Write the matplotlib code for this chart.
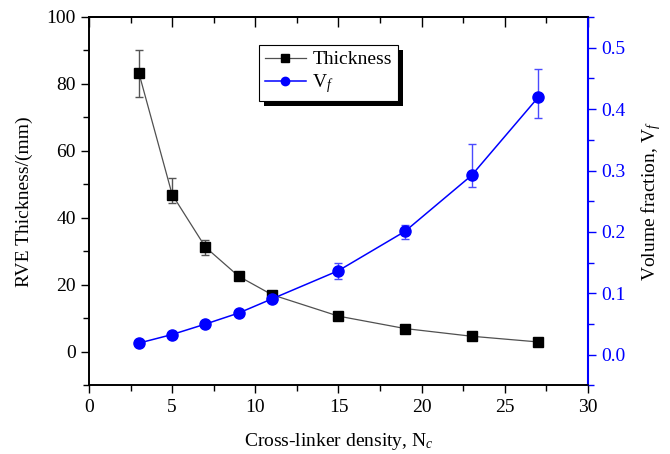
import numpy as np
import matplotlib
matplotlib.use("Agg")
import matplotlib.pyplot as plt
from matplotlib.patches import Rectangle
from matplotlib.transforms import IdentityTransform

plt.rcParams['font.family'] = ['Liberation Serif', 'DejaVu Serif']
plt.rcParams['mathtext.fontset'] = 'custom'
plt.rcParams['mathtext.rm'] = 'Liberation Serif'
plt.rcParams['mathtext.it'] = 'Liberation Serif:italic'

# data
density = [3, 5, 7, 9, 11, 15, 19, 23, 27]
thickness = [83.3, 47.0, 31.3, 22.6, 17.1, 10.7, 7.0, 4.7, 3.0]
thick_lo = [7.3, 2.5, 2.3, 0.5, 0.5, 0.3, 0.3, 0.2, 0.2]
thick_hi = [6.7, 5.0, 2.2, 0.5, 0.5, 0.3, 0.3, 0.2, 0.2]
vf = [0.019, 0.033, 0.050, 0.068, 0.091, 0.137, 0.201, 0.292, 0.419]
vf_lo = [0.003, 0.003, 0.003, 0.003, 0.003, 0.013, 0.013, 0.019, 0.034]
vf_hi = [0.003, 0.003, 0.003, 0.003, 0.003, 0.012, 0.010, 0.051, 0.046]

blue = '#0000ff'

fig = plt.figure(figsize=(6.7, 4.54), dpi=100)
ax = fig.add_axes([0.1328, 0.1509, 0.7448, 0.8117])
ax2 = ax.twinx()

eb1 = ax.errorbar(density, thickness, yerr=[thick_lo, thick_hi], color='#505050',
                  lw=0.9, marker='s', ms=7, mfc='black', mec='black',
                  ecolor='#555555', elinewidth=1, capsize=3, capthick=1)
eb2 = ax2.errorbar(density, vf, yerr=[vf_lo, vf_hi], color=blue, lw=1.1,
                   marker='o', ms=8, mfc=blue, mec=blue, ecolor='#4a4aff',
                   elinewidth=1, capsize=3, capthick=1)

ax.set_xlim(0, 30)
ax.set_ylim(-10, 100)
ax2.set_ylim(-0.05, 0.55)

ax.set_xticks(np.arange(0, 31, 5))
ax.set_xticks(np.arange(2.5, 30, 5), minor=True)
ax.set_yticks(np.arange(0, 101, 20))
ax.set_yticks(np.arange(-10, 100, 20), minor=True)
ax2.set_yticks(np.arange(0, 0.51, 0.1))
ax2.set_yticks(np.arange(-0.05, 0.56, 0.1), minor=True)
ax2.set_yticklabels(['0.0', '0.1', '0.2', '0.3', '0.4', '0.5'])

ax.tick_params(axis='both', which='major', labelsize=14, length=6, width=1,
               direction='out')
ax.tick_params(axis='both', which='minor', length=4, width=1, direction='out')
ax2.tick_params(axis='y', which='major', labelsize=14, length=6, width=1,
                colors=blue)
ax2.tick_params(axis='y', which='minor', length=4, width=1, colors=blue)
ax2.spines['right'].set_color(blue)

# top axis ticks point inward
top = ax.secondary_xaxis('top')
top.set_xticks(np.arange(0, 31, 5))
top.set_xticks(np.arange(2.5, 30, 5), minor=True)
top.tick_params(which='major', direction='in', length=7, width=1, labeltop=False)
top.tick_params(which='minor', direction='in', length=4, width=1)
top.spines['top'].set_linewidth(1.2)

for a in (ax, ax2):
    for s in a.spines.values():
        s.set_linewidth(1.2)
ax2.spines['right'].set_linewidth(1.5)

ax.set_xlabel('Cross-linker density, N$_{c}$', fontsize=14, labelpad=11)
ax.set_ylabel('RVE Thickness/(mm)', fontsize=14, labelpad=10)
ax2.set_ylabel('Volume fraction, V$_{f}$', fontsize=14, labelpad=10,
               rotation=90)

leg = ax2.legend([eb1[0], eb2[0]], ['Thickness', 'V$_{f}$'], loc='upper left',
                 bbox_to_anchor=(259 / 670, 1 - 45 / 454),
                 bbox_transform=fig.transFigure, borderaxespad=0,
                 fontsize=14, fancybox=False, edgecolor='black',
                 framealpha=1, handlelength=2.1, handletextpad=0.35,
                 labelspacing=0.2, borderpad=0.3, markerscale=0.75)
leg.get_frame().set_linewidth(0.8)
leg.set_zorder(10)

# black drop shadow behind the legend box
fig.canvas.draw()
bb = leg.get_frame().get_window_extent()
shadow = Rectangle((bb.x0 + 5, bb.y0 - 5), bb.width, bb.height,
                   transform=IdentityTransform(), facecolor='black',
                   edgecolor='none', zorder=9)
ax2.add_artist(shadow)

fig.savefig('out.png', dpi=100)
